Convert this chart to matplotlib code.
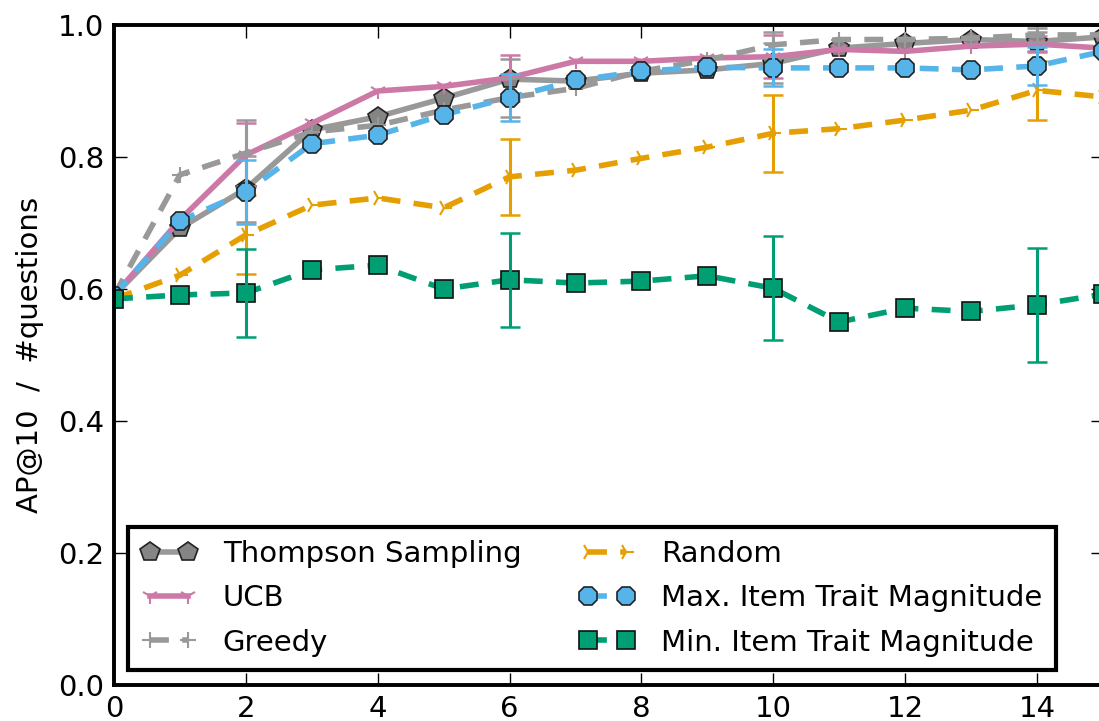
import numpy as np
import matplotlib
matplotlib.use('Agg')
import matplotlib.pyplot as plt

steps = list(range(16))

thompson = [0.59, 0.692, 0.752, 0.841, 0.861, 0.889, 0.918, 0.915, 0.927, 0.932, 0.942, 0.965, 0.972, 0.978, 0.975, 0.982]
ucb = [0.59, 0.705, 0.803, 0.851, 0.900, 0.907, 0.920, 0.945, 0.945, 0.950, 0.952, 0.963, 0.960, 0.968, 0.971, 0.965]
greedy = [0.59, 0.773, 0.806, 0.838, 0.848, 0.871, 0.890, 0.904, 0.930, 0.947, 0.970, 0.978, 0.978, 0.980, 0.985, 0.985]
random_sel = [0.585, 0.621, 0.682, 0.727, 0.738, 0.723, 0.770, 0.780, 0.798, 0.815, 0.836, 0.843, 0.856, 0.871, 0.901, 0.891]
max_trait = [0.59, 0.703, 0.747, 0.820, 0.833, 0.864, 0.890, 0.916, 0.930, 0.936, 0.935, 0.935, 0.935, 0.932, 0.938, 0.960]
min_trait = [0.585, 0.591, 0.594, 0.629, 0.636, 0.600, 0.614, 0.609, 0.612, 0.620, 0.601, 0.550, 0.571, 0.566, 0.576, 0.592]

# error bars are only shown at steps 2, 6, 10, 14
err_steps = [2, 6, 10, 14]
thompson_err = [0.05, 0.03, 0.03, 0.015]
ucb_err = [0.048, 0.035, 0.033, 0.012]
greedy_err = [0.05, 0.03, 0.02, 0.01]
random_err = [0.06, 0.058, 0.058, 0.045]
max_err = [0.048, 0.036, 0.028, 0.029]
min_err = [0.066, 0.071, 0.079, 0.086]

labels = ['Thompson Sampling', 'UCB', 'Greedy', 'Random',
          'Max. Item Trait Magnitude', 'Min. Item Trait Magnitude']

plt.rcParams['font.family'] = ['DejaVu Sans']
plt.rcParams['font.size'] = 21

fig = plt.figure(figsize=(10.99, 7.21), dpi=100)
ax = fig.add_axes([114 / 1099, 36 / 721, 989 / 1099, 660 / 721])

series = [
    (thompson, thompson_err, dict(color='#999999', ls='-', marker='p', mfc='#858585', mec='#222222', mew=1.2, ms=15)),
    (ucb, ucb_err, dict(color='#CC79A7', ls='-', marker='1', mfc='#CC79A7', mec='#CC79A7', mew=1.5, ms=12)),
    (greedy, greedy_err, dict(color='#999999', ls='--', marker='+', mfc='#999999', mec='#999999', mew=1.5, ms=12)),
    (random_sel, random_err, dict(color='#E69F00', ls='--', marker='4', mfc='#E69F00', mec='#E69F00', mew=1.5, ms=12)),
    (max_trait, max_err, dict(color='#56B4E9', ls='--', marker='8', mfc='#56B4E9', mec='#222222', mew=1.2, ms=14.5)),
    (min_trait, min_err, dict(color='#009E73', ls='--', marker='s', mfc='#009E73', mec='#111111', mew=1.2, ms=13.5)),
]

for (vals, errs, style), lab in zip(series, labels):
    line, = ax.plot(steps, vals, lw=4, label=lab, **style)
    if style['ls'] == '--':
        line.set_dashes([3.4, 2.4])
    ev = [vals[s] for s in err_steps]
    ax.errorbar(err_steps, ev, yerr=errs, fmt='none', ecolor=style['color'],
                elinewidth=2.2, capsize=7, capthick=1.8)

ax.set_xlim(0, 15)
ax.set_ylim(0, 1.0)
ax.set_xticks([0, 2, 4, 6, 8, 10, 12, 14])
ax.set_yticks([0.0, 0.2, 0.4, 0.6, 0.8, 1.0])
ax.set_yticklabels(['0.0', '0.2', '0.4', '0.6', '0.8', '1.0'])
ax.tick_params(direction='in', length=9, width=1, top=True, right=True, pad=7, labelsize=21)
for sp in ax.spines.values():
    sp.set_linewidth(2.8)
    sp.set_color('black')
ax.set_ylabel('AP@10  /  #questions', fontsize=21, labelpad=10)

leg = ax.legend(ncol=2, loc='lower left', bbox_to_anchor=(0.014, 0.023), borderaxespad=0,
                numpoints=2, handlelength=1.9, handletextpad=0.9, columnspacing=2.0,
                labelspacing=0.56, borderpad=0.45, fontsize=21, fancybox=False, framealpha=1)
leg.get_frame().set_edgecolor('black')
leg.get_frame().set_linewidth(3)

fig.savefig('out.png', dpi=100)
